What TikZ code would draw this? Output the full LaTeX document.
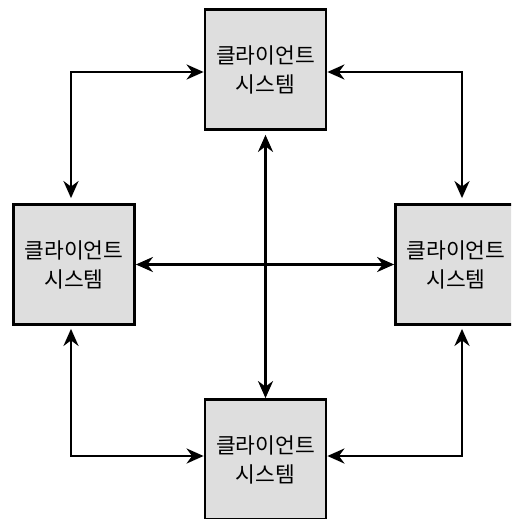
\documentclass[tikz,border=0pt]{standalone}
\usepackage{fontspec}
\newfontfamily\kr{Noto Sans CJK KR}
\usetikzlibrary{arrows.meta}
\definecolor{boxfill}{HTML}{DEDEDE}
\tikzset{
  client/.style={draw=black, line width=2.8pt, fill=boxfill, rectangle,
    minimum width=121pt, minimum height=120pt, inner sep=0pt,
    align=center, font=\kr\fontsize{21.5}{29}\selectfont},
  tip/.style={Stealth[length=17pt,width=15pt,inset=5.5pt]},
  link/.style={line width=2.6pt, {Stealth[length=17pt,width=15pt,inset=5.5pt]}-{Stealth[length=17pt,width=15pt,inset=5.5pt]}}
}
\begin{document}
\begin{tikzpicture}[x=1pt,y=-1pt]
  \clip (0,0) rectangle (511,519);
  \fill[white] (0,0) rectangle (511,519);

  % four client systems
  \node[client] (top) at (265.5,69.5) {클라이언트\\시스템};
  \node[client] (lft) at (74,264.5) {클라이언트\\시스템};
  \node[client] (rgt) at (456,264.5) {클라이언트\\시스템};
  \node[client] (bot) at (265.5,459.5) {클라이언트\\시스템};

  % corner bends of the ring
  \coordinate (tl) at (71,72);
  \coordinate (tr) at (462,72);
  \coordinate (bl) at (71,456);
  \coordinate (br) at (462,456);

  % ring connections
  \draw[link, shorten <=5pt] (lft.north -| tl) |- (top.west |- tl);
  \draw[link, shorten <=5pt] (rgt.north -| tr) |- (top.east |- tr);
  \draw[link, shorten <=3pt] (lft.south -| bl) |- (bot.west |- bl);
  \draw[link, shorten <=3pt] (rgt.south -| br) |- (bot.east |- br);

  % cross connections
  \draw[link, shorten <=4pt] (top.south) -- (bot.north);
  \draw[link] (lft.east) -- (rgt.west);
\end{tikzpicture}
\end{document}
